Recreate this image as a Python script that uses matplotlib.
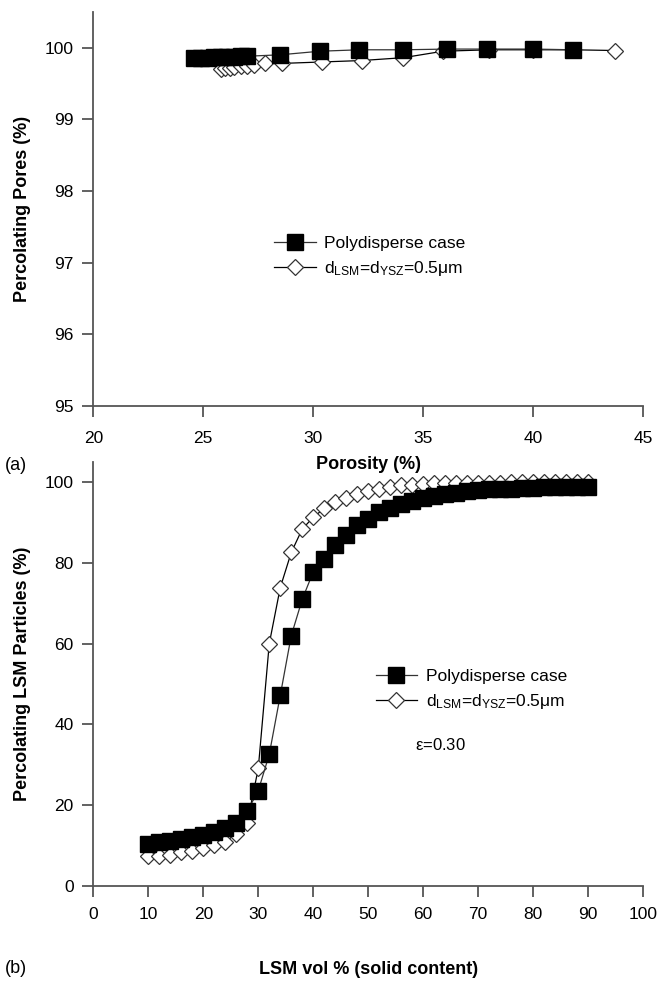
import matplotlib
matplotlib.use("Agg")
import matplotlib.pyplot as plt

plt.rcParams['font.family'] = ['Liberation Sans', 'DejaVu Sans']
plt.rcParams['mathtext.fontset'] = 'custom'
plt.rcParams['mathtext.rm'] = 'Liberation Sans'
plt.rcParams['mathtext.it'] = 'Liberation Sans:italic'

# (a) percolating pores vs porosity
poro_poly = [24.6, 24.9, 25.2, 25.5, 25.8, 26.1, 26.4, 26.7, 27.0,
             28.5, 30.3, 32.1, 34.1, 36.1, 37.9, 40.0, 41.8]
pores_poly = [99.86, 99.86, 99.86, 99.87, 99.87, 99.87, 99.87, 99.88, 99.88,
              99.90, 99.95, 99.97, 99.97, 99.98, 99.98, 99.98, 99.97]
poro_mono = [25.8, 26.0, 26.2, 26.4, 26.7, 27.0, 27.3, 27.8, 28.6,
             30.4, 32.2, 34.1, 35.9, 38.0, 40.0, 41.8, 43.7]
pores_mono = [99.70, 99.71, 99.72, 99.73, 99.74, 99.75, 99.76, 99.78, 99.78,
              99.80, 99.82, 99.86, 99.95, 99.97, 99.97, 99.97, 99.96]

# (b) percolating LSM particles vs LSM vol %
lsm = list(range(10, 92, 2))
perc_poly = [10.3, 10.8, 11.2, 11.7, 12.2, 12.7, 13.3, 14.3, 15.5, 18.5,
             23.6, 32.6, 47.2, 62.0, 71.0, 77.8, 81.0, 84.5, 87.0, 89.3,
             91.0, 92.5, 93.5, 94.5, 95.3, 96.0, 96.5, 97.0, 97.4, 97.7,
             98.0, 98.2, 98.3, 98.4, 98.5, 98.6, 98.7, 98.8, 98.8, 98.9, 98.9]
perc_mono = [7.4, 7.5, 7.8, 8.3, 8.7, 9.3, 10.1, 10.9, 13.0, 15.7,
             29.1, 60.0, 73.9, 82.6, 88.4, 91.3, 93.5, 95.0, 96.2, 97.0,
             97.8, 98.4, 98.9, 99.2, 99.4, 99.6, 99.7, 99.8, 99.8, 99.9,
             99.9, 99.9, 99.9, 100.0, 100.0, 100.0, 100.0, 100.0, 100.0, 100.0, 100.0]

lab_poly = 'Polydisperse case'
lab_mono = r'd$_{\mathrm{LSM}}$=d$_{\mathrm{YSZ}}$=0.5$\mathrm{\mu}$m'

spine_c = '#555555'

fig = plt.figure(figsize=(6.57, 9.85), dpi=100)
ax1 = fig.add_axes([0.142, 0.588, 0.837, 0.400])
ax2 = fig.add_axes([0.142, 0.1005, 0.837, 0.4305])
ax2.patch.set_alpha(0)

for ax in (ax1, ax2):
    ax.spines['top'].set_visible(False)
    ax.spines['right'].set_visible(False)
    for s in ('left', 'bottom'):
        ax.spines[s].set_color(spine_c)
        ax.spines[s].set_linewidth(1.3)
    ax.tick_params(direction='out', length=8, width=1.3, color=spine_c,
                   labelsize=12.5, pad=6)
ax1.tick_params(axis='x', pad=10)
ax2.tick_params(axis='x', pad=7)

ax1.plot(poro_mono, pores_mono, '-', color='black', lw=0.9, marker='D',
         ms=8, mfc='white', mec='#333333', mew=0.9, label=lab_mono, zorder=2)
ax1.plot(poro_poly, pores_poly, '-', color='#333333', lw=0.9, marker='s',
         ms=11, mfc='black', mec='black', label=lab_poly, zorder=3)
ax1.set_xlim(20, 45)
ax1.set_ylim(95, 100.5)
ax1.set_xticks([20, 25, 30, 35, 40, 45])
ax1.set_yticks([95, 96, 97, 98, 99, 100])
ax1.set_xlabel('Porosity (%)', fontsize=13, fontweight='bold', labelpad=7)
ax1.set_ylabel('Percolating Pores (%)', fontsize=13, fontweight='bold', labelpad=10)
h, l = ax1.get_legend_handles_labels()
ax1.legend(h[::-1], l[::-1], loc='upper left', bbox_to_anchor=(0.3, 0.47),
           frameon=False, fontsize=12.5, handlelength=2.4, handletextpad=0.5,
           labelspacing=0.45)
fig.text(0.008, 0.527, '(a)', fontsize=13, va='center')

ax2.plot(lsm, perc_mono, '-', color='black', lw=0.9, marker='D',
         ms=8, mfc='white', mec='#333333', mew=0.9, label=lab_mono, zorder=2)
ax2.plot(lsm, perc_poly, '-', color='#333333', lw=0.9, marker='s',
         ms=11, mfc='black', mec='black', label=lab_poly, zorder=3)
ax2.set_xlim(0, 100)
ax2.set_ylim(0, 105)
ax2.set_xticks(range(0, 101, 10))
ax2.set_yticks(range(0, 101, 20))
ax2.set_xlabel('LSM vol % (solid content)', fontsize=13, fontweight='bold', labelpad=28)
ax2.set_ylabel('Percolating LSM Particles (%)', fontsize=13, fontweight='bold', labelpad=10)
h, l = ax2.get_legend_handles_labels()
ax2.legend(h[::-1], l[::-1], loc='upper left', bbox_to_anchor=(0.485, 0.548),
           frameon=False, fontsize=12.5, handlelength=2.4, handletextpad=0.5,
           labelspacing=0.45)
ax2.text(0.585, 0.333, r'$\mathrm{\varepsilon}$=0.30', transform=ax2.transAxes,
         fontsize=12, va='center')
fig.text(0.008, 0.017, '(b)', fontsize=13, va='center')

fig.savefig('out.png', dpi=100)
